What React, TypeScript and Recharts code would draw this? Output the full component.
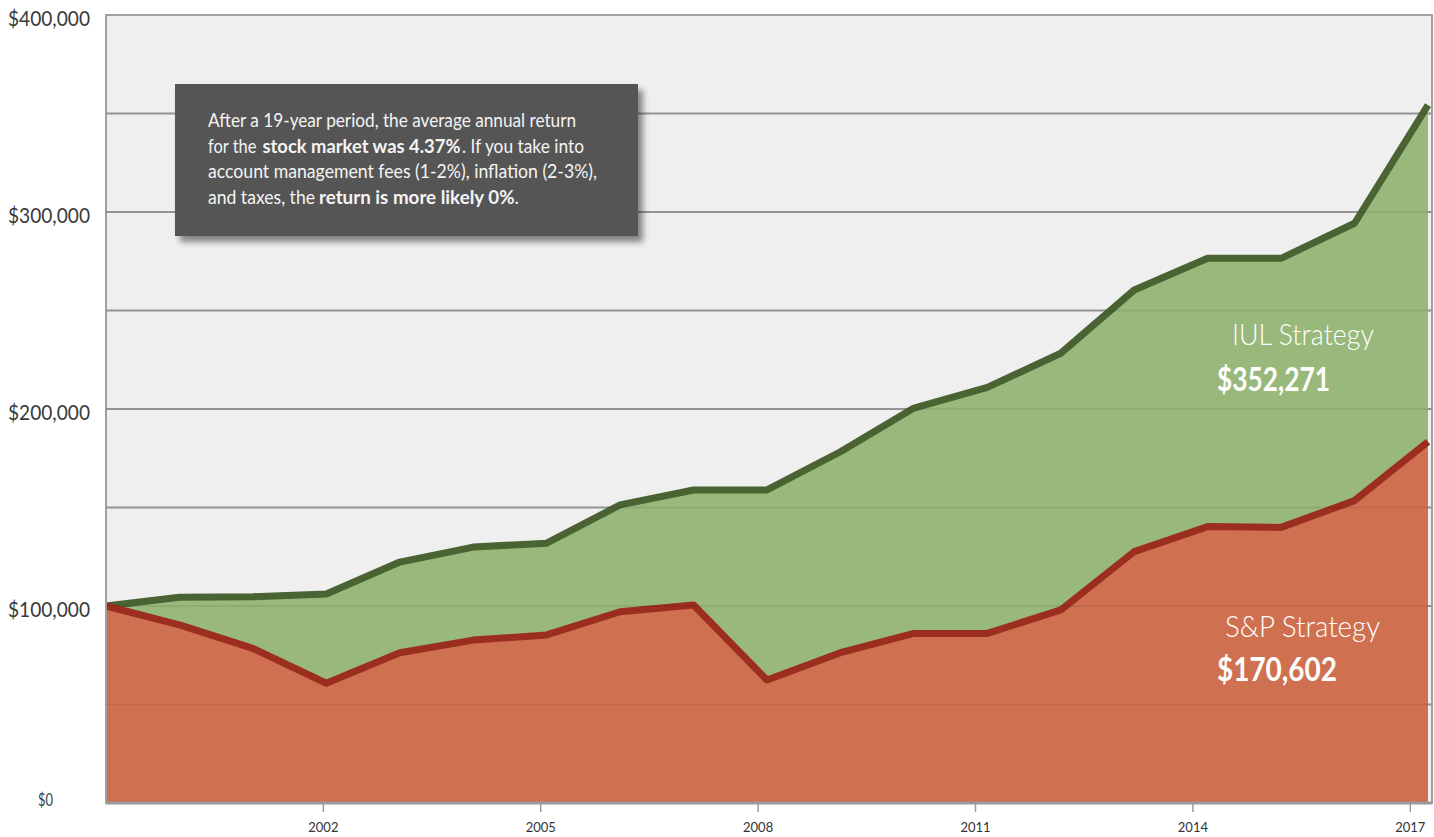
import React from "react";
import {
  ComposedChart,
  Area,
  XAxis,
  YAxis,
  CartesianGrid,
  ReferenceLine,
  ReferenceArea,
} from "recharts";

const YEARS = [1999, 2000, 2001, 2002, 2003, 2004, 2005, 2006, 2007, 2008, 2009, 2010, 2011, 2012, 2013, 2014, 2015, 2016, 2017];
const IUL = [100000, 104400, 104700, 106100, 122300, 129900, 131900, 151300, 158900, 158900, 178300, 200500, 211000, 228300, 260400, 276500, 276500, 294300, 354300];
const SP = [100000, 90400, 78500, 60800, 76300, 82700, 85300, 97100, 100500, 62400, 76300, 86100, 86100, 98000, 127600, 140300, 139900, 153500, 183400];
const X_TICKS = [2002, 2005, 2008, 2011, 2014, 2017];
const Y_TICKS = [0, 50000, 100000, 150000, 200000, 250000, 300000, 350000, 400000];
const Y_LABEL_STEP = 100000;

const data = YEARS.map((year, i) => ({ year, iul: IUL[i], sp: SP[i] }));

const FONT = "Lato, 'Open Sans', sans-serif";

const fmt = (v: number) => "$" + v.toLocaleString("en-US");

const YTick = (props: any) => {
  const { y, payload } = props;
  const v = payload.value as number;
  if (v % Y_LABEL_STEP !== 0) return <g />;
  if (v === 0) {
    return (
      <text x={53} y={y + 3} textAnchor="end" fontFamily={FONT} fontSize={17} fill="#3a3a3a" textLength={15} lengthAdjust="spacingAndGlyphs">
        {fmt(v)}
      </text>
    );
  }
  return (
    <text x={90} y={y + 11} textAnchor="end" fontFamily={FONT} fontSize={22} fill="#3a3a3a" textLength={82} lengthAdjust="spacingAndGlyphs">
      {fmt(v)}
    </text>
  );
};

const XTick = (props: any) => {
  const { x, y, payload } = props;
  return (
    <text x={x} y={y + 18} textAnchor="middle" fontFamily={FONT} fontSize={13} fill="#333">
      {payload.value}
    </text>
  );
};

const Seg = ({ x, y, w, bold, children }: any) => (
  <text x={x} y={y} textLength={w} lengthAdjust="spacingAndGlyphs" fontWeight={bold ? 700 : 400}>
    {children}
  </text>
);

export default function App() {
  return (
    <div style={{ position: "absolute", left: 0, top: 0, width: 1434, height: 837 }}>
      <ComposedChart width={1434} height={837} data={data} margin={{ top: 15, right: 2, bottom: 4, left: 0 }}>
        <CartesianGrid xAxisId="data" yAxisId="v" vertical={false} fill="#efefef" fillOpacity={1} stroke="#a0a0a0" strokeWidth={2} />
        <XAxis
          xAxisId="yr"
          type="number"
          dataKey="year"
          domain={[1999, 2017.3]}
          allowDataOverflow
          ticks={X_TICKS}
          interval={0}
          height={30}
          tickSize={9}
          tickLine={{ stroke: "#9a9a9a", strokeWidth: 1.5 }}
          axisLine={{ stroke: "#9a9a9a", strokeWidth: 3 }}
          tick={<XTick />}
        />
        <XAxis xAxisId="data" type="number" dataKey="year" domain={[1999, 2017]} hide height={0} padding={{ left: 0, right: 4 }} />
        <YAxis yAxisId="v" width={106} domain={[0, 400000]} ticks={Y_TICKS} interval={0} axisLine={false} tickLine={false} tick={<YTick />} />
        <Area
          xAxisId="data"
          yAxisId="v"
          type="linear"
          dataKey="iul"
          stroke="#4a6333"
          strokeWidth={7}
          strokeLinejoin="round"
          fill="#99b87b"
          fillOpacity={1}
          isAnimationActive={false}
          dot={false}
          activeDot={false}
        />
        <Area
          xAxisId="data"
          yAxisId="v"
          type="linear"
          dataKey="sp"
          stroke="#9b2e1e"
          strokeWidth={7}
          strokeLinejoin="round"
          fill="#cf7150"
          fillOpacity={1}
          isAnimationActive={false}
          dot={false}
          activeDot={false}
        />
        {Y_TICKS.filter((v) => v > 0 && v < 400000).map((v) => (
          <ReferenceLine key={v} xAxisId="data" yAxisId="v" y={v} stroke="#000" strokeOpacity={0.07} strokeWidth={2} />
        ))}
        <ReferenceArea
          xAxisId="yr"
          yAxisId="v"
          x1={1999}
          x2={2017.3}
          y1={0}
          y2={400000}
          fill="none"
          fillOpacity={0}
          stroke="#a0a0a0"
          strokeWidth={2}
          ifOverflow="visible"
        />
      </ComposedChart>
      <svg width={1434} height={837} style={{ position: "absolute", left: 0, top: 0, pointerEvents: "none" }}>
        <defs>
          <filter id="boxShadow" x="-10%" y="-10%" width="130%" height="140%">
            <feDropShadow dx={5} dy={6} stdDeviation={3} floodColor="#000" floodOpacity={0.45} />
          </filter>
        </defs>
        <rect x={175} y={84} width={463} height={152} fill="#555555" filter="url(#boxShadow)" />
        <g fontFamily={FONT} fontSize={19.5} fill="#f4f4f4">
          <Seg x={208} y={127} w={368}>After a 19-year period, the average annual return</Seg>
          <Seg x={208} y={152.5} w={48.5}>for the</Seg>
          <Seg x={262.5} y={152.5} w={198} bold>stock market was 4.37%</Seg>
          <Seg x={462} y={152.5} w={122}>. If you take into</Seg>
          <Seg x={208} y={178} w={389}>account management fees (1-2%), inflation (2-3%),</Seg>
          <Seg x={208} y={203.5} w={107}>and taxes, the</Seg>
          <Seg x={319} y={203.5} w={200} bold>
            return is more likely 0%<tspan fontWeight={400}>.</tspan>
          </Seg>
        </g>
        <g fontFamily={FONT} fill="#ffffff">
          <text x={1232} y={345} fontSize={30} fontWeight={300} textLength={142} lengthAdjust="spacingAndGlyphs">
            IUL Strategy
          </text>
          <text x={1217} y={391} fontSize={32} fontWeight={700} textLength={113} lengthAdjust="spacingAndGlyphs">
            $352,271
          </text>
          <text x={1225} y={637} fontSize={30} fontWeight={300} textLength={155} lengthAdjust="spacingAndGlyphs">
            S&amp;P Strategy
          </text>
          <text x={1217} y={681} fontSize={32} fontWeight={700} textLength={120} lengthAdjust="spacingAndGlyphs">
            $170,602
          </text>
        </g>
      </svg>
    </div>
  );
}
